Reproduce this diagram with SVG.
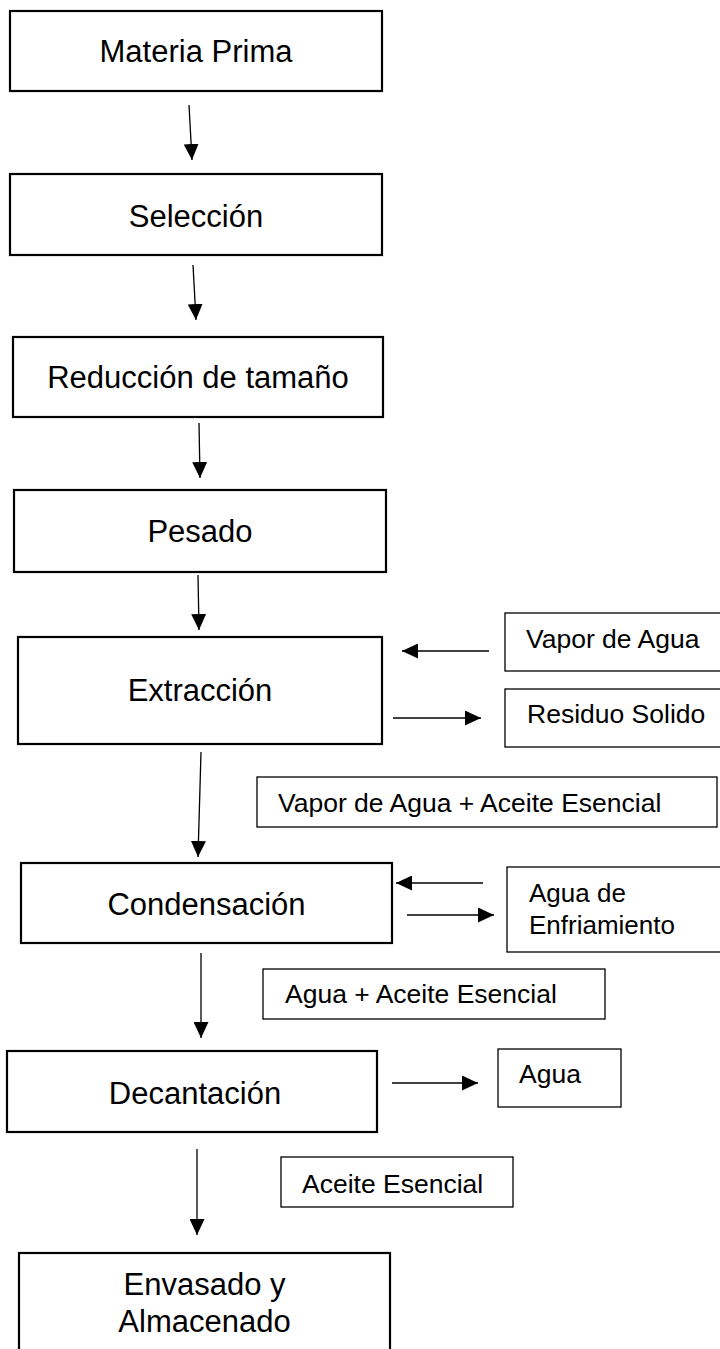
<svg xmlns="http://www.w3.org/2000/svg" width="720" height="1349" viewBox="0 0 720 1349">
  <defs>
    <marker id="ah" markerUnits="userSpaceOnUse" markerWidth="16" markerHeight="15" refX="16" refY="7.5" orient="auto">
      <path d="M0,0 L16,7.5 L0,15 z" fill="#000"/>
    </marker>
  </defs>
  <style>
    .main rect { fill: #fff; stroke: #000; stroke-width: 2.2; }
    .side rect { fill: #fff; stroke: #000; stroke-width: 1.3; }
    .main text { font-family: "Liberation Sans", Arial, sans-serif; font-size: 31px; fill: #000; text-anchor: middle; }
    .side text { font-family: "Liberation Sans", Arial, sans-serif; font-size: 26.5px; fill: #000; }
    .side text.sm { font-size: 26px; }
    #connectors line { stroke: #000; stroke-width: 1.3; marker-end: url(#ah); }
  </style>
  <rect width="720" height="1349" fill="#fff"/>

  <g id="materia-prima" class="main">
    <rect x="10" y="11" width="372" height="80"/>
    <text x="196" y="62">Materia Prima</text>
  </g>
  <g id="seleccion" class="main">
    <rect x="10" y="174" width="372" height="81"/>
    <text x="196" y="227">Selección</text>
  </g>
  <g id="reduccion" class="main">
    <rect x="13" y="337" width="370" height="80"/>
    <text x="198" y="388">Reducción de tamaño</text>
  </g>
  <g id="pesado" class="main">
    <rect x="14" y="490" width="372" height="82"/>
    <text x="200" y="542">Pesado</text>
  </g>
  <g id="extraccion" class="main">
    <rect x="18" y="637" width="364" height="107"/>
    <text x="200" y="701">Extracción</text>
  </g>
  <g id="condensacion" class="main">
    <rect x="21" y="863" width="371" height="80"/>
    <text x="206.5" y="915">Condensación</text>
  </g>
  <g id="decantacion" class="main">
    <rect x="7" y="1051" width="370" height="81"/>
    <text x="195" y="1104">Decantación</text>
  </g>
  <g id="envasado" class="main">
    <rect x="19" y="1253" width="371" height="110"/>
    <text x="204.5" y="1295">Envasado y</text>
    <text x="204.5" y="1332">Almacenado</text>
  </g>

  <g id="vapor-de-agua" class="side">
    <rect x="505" y="613" width="220" height="58"/>
    <text x="526" y="648">Vapor de Agua</text>
  </g>
  <g id="residuo-solido" class="side">
    <rect x="505" y="689" width="220" height="58"/>
    <text x="527" y="723">Residuo Solido</text>
  </g>
  <g id="vapor-aceite" class="side">
    <rect x="257" y="777" width="460" height="50"/>
    <text x="278" y="812">Vapor de Agua + Aceite Esencial</text>
  </g>
  <g id="agua-enfriamiento" class="side">
    <rect x="507" y="867" width="220" height="85"/>
    <text class="sm" x="529" y="902">Agua de</text>
    <text class="sm" x="529" y="934">Enfriamiento</text>
  </g>
  <g id="agua-aceite" class="side">
    <rect x="263" y="969" width="342" height="50"/>
    <text x="285" y="1003">Agua + Aceite Esencial</text>
  </g>
  <g id="agua" class="side">
    <rect x="498" y="1049" width="123" height="58"/>
    <text x="519" y="1083">Agua</text>
  </g>
  <g id="aceite-esencial" class="side">
    <rect x="281" y="1157" width="232" height="50"/>
    <text x="302" y="1193">Aceite Esencial</text>
  </g>

  <g id="connectors">
    <line x1="189" y1="105" x2="192" y2="160"/>
    <line x1="193" y1="265" x2="196" y2="320"/>
    <line x1="199" y1="423" x2="200" y2="478"/>
    <line x1="198" y1="575" x2="199" y2="630"/>
    <line x1="201" y1="752" x2="198" y2="857"/>
    <line x1="201" y1="953" x2="201" y2="1038"/>
    <line x1="197" y1="1149" x2="197" y2="1235"/>
    <line x1="489" y1="651" x2="402" y2="651"/>
    <line x1="393" y1="718" x2="481" y2="718"/>
    <line x1="483" y1="883" x2="396" y2="883"/>
    <line x1="407" y1="915" x2="494" y2="915"/>
    <line x1="392" y1="1083" x2="478" y2="1083"/>
  </g>
</svg>
